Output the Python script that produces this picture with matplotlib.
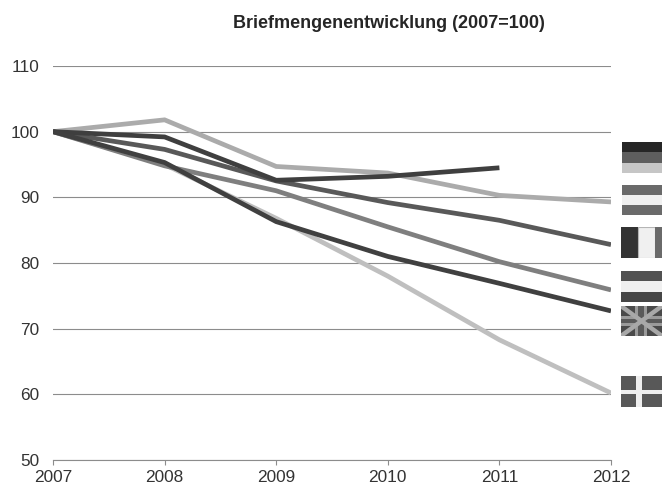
import numpy as np
import matplotlib
matplotlib.use("Agg")
import matplotlib.pyplot as plt
from matplotlib.patches import Rectangle

plt.rcParams['font.family'] = ['Liberation Sans', 'DejaVu Sans']

W, H = 662, 486
years = [2007, 2008, 2009, 2010, 2011, 2012]
yticks = [50, 60, 70, 80, 90, 100, 110]

# Letter volumes per country, indexed to 2007 = 100
austria = [100, 101.8, 94.7, 93.7, 90.3, 89.3]
germany = [100, 99.2, 92.6, 93.2, 94.5]
france = [100, 97.3, 92.5, 89.2, 86.5, 82.8]
netherlands = [100, 94.8, 91.0, 85.5, 80.2, 75.9]
denmark = [100, 95.0, 86.8, 78.0, 68.3, 60.2]
uk = [100, 95.3, 86.3, 81.0, 76.9, 72.7]

series = [
    (denmark, '#bfbfbf'),
    (austria, '#ababab'),
    (netherlands, '#7f7f7f'),
    (france, '#595959'),
    (germany, '#3f3f3f'),
    (uk, '#404040'),
]

fig = plt.figure(figsize=(W / 100, H / 100), dpi=100)
ax = fig.add_axes([53 / W, 1 - 460 / H, (611 - 53) / W, (460 - 66) / H])
ax.set_xlim(2007, 2012)
ax.set_ylim(50, 110)

for values, colour in series:
    ax.plot(years[:len(values)], values, color=colour, lw=3.4,
            solid_joinstyle='miter', solid_capstyle='butt', zorder=3)

ax.set_xticks(years)
ax.set_yticks(yticks)
ax.grid(axis='y', color='#8c8c8c', lw=0.8, zorder=1)
ax.set_axisbelow(True)
for side in ('top', 'right', 'left'):
    ax.spines[side].set_visible(False)
ax.spines['bottom'].set_color('#8c8c8c')
ax.spines['bottom'].set_linewidth(0.8)
ax.tick_params(axis='x', length=3.6, width=0.8, color='#8c8c8c', pad=3.5,
               labelsize=12.4, labelcolor='#333333')
ax.tick_params(axis='y', length=0, pad=10, labelsize=12.4, labelcolor='#333333')

fig.text(388.5 / W, 1 - 24 / H, 'Briefmengenentwicklung (2007=100)', ha='center',
         va='center', fontsize=13, fontweight='bold', color='#262626')


def flag_axes(x0, y0, x1, y1):
    """Small axes in pixel bounds, with a 0..1 canvas for a greyscale flag."""
    a = fig.add_axes([x0 / W, 1 - y1 / H, (x1 - x0) / W, (y1 - y0) / H])
    a.set_xlim(0, 1)
    a.set_ylim(0, 1)
    a.axis('off')
    return a


def stripes(a, colours):
    n = len(colours)
    for i, c in enumerate(colours):
        a.add_patch(Rectangle((0, 1 - (i + 1) / n), 1, 1 / n, color=c, lw=0))


stripes(flag_axes(622, 142, 662, 173), ['#262626', '#5e5e5e', '#c6c6c6'])
stripes(flag_axes(622, 185, 662, 215), ['#6a6a6a', '#f0f0f0', '#6a6a6a'])

# Tricolour with its right-hand band cut off by the figure edge
a = flag_axes(621, 227, 662, 258)
a.add_patch(Rectangle((0, 0), 0.41, 1, color='#333333', lw=0))
a.add_patch(Rectangle((0.41, 0), 0.41, 1, color='#f0f0f0', ec='#b5b5b5', lw=0.8))
a.add_patch(Rectangle((0.82, 0), 0.18, 1, color='#6a6a6a', lw=0))

stripes(flag_axes(621, 271, 662, 302), ['#525252', '#f0f0f0', '#464646'])

# Union Jack
a = flag_axes(621, 306, 662, 336)
a.add_patch(Rectangle((0, 0), 1, 1, color='#4a4a4a', lw=0))
for xs, ys in (((0, 1), (1, 0)), ((0, 1), (0, 1))):
    a.plot(xs, ys, color='#a8a8a8', lw=3.2, solid_capstyle='butt')
a.add_patch(Rectangle((0.33, 0), 0.30, 1, color='#9a9a9a', lw=0))
a.add_patch(Rectangle((0, 0.33), 1, 0.34, color='#9a9a9a', lw=0))
a.add_patch(Rectangle((0.41, 0), 0.14, 1, color='#5a5a5a', lw=0))
a.add_patch(Rectangle((0, 0.42), 1, 0.16, color='#5a5a5a', lw=0))

# Danish cross
a = flag_axes(621, 376, 662, 407)
a.add_patch(Rectangle((0, 0), 1, 1, color='#585858', lw=0))
a.add_patch(Rectangle((0.37, 0), 0.13, 1, color='#eeeeee', lw=0))
a.add_patch(Rectangle((0, 0.41), 1, 0.14, color='#eeeeee', lw=0))

fig.savefig('out.png', dpi=100)
